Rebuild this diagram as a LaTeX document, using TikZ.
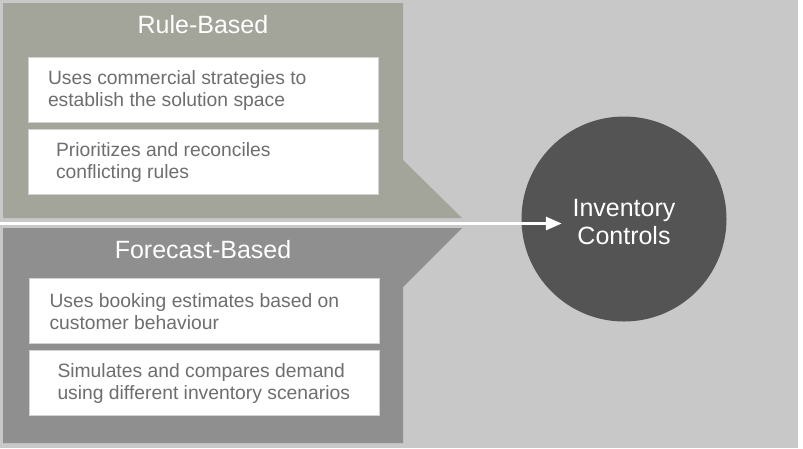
\documentclass[tikz,border=0pt]{standalone}
\usepackage{fontspec}
\setmainfont{Liberation Sans}
\usetikzlibrary{arrows.meta,positioning}
\definecolor{bggray}{HTML}{C8C8C8}
\definecolor{rulegray}{HTML}{A4A59A}
\definecolor{fcgray}{HTML}{8F8F8F}
\definecolor{ctrlgray}{HTML}{545454}
\definecolor{itemtext}{HTML}{6E6E6E}
\definecolor{itemline}{HTML}{D2D2D2}

\begin{document}
\begin{tikzpicture}[x=1pt,y=-1pt,
	itembox/.style={draw=itemline, fill=white, minimum width=350pt, minimum height=65pt},
	itemtext/.style={font=\fontsize{19.3}{22}\selectfont, text=itemtext, align=left, anchor=west, inner sep=0pt},
	paneltitle/.style={text=white, font=\fontsize{25}{28}\selectfont},
	ctrlcircle/.style={circle, fill=ctrlgray, minimum size=205pt, inner sep=0pt}]
					\useasboundingbox (0,0) rectangle (803,448);
					\fill[bggray] (0,0) rectangle (798,448);
					% panels
					\fill[rulegray] (3,3) -- (403,3) -- (403,160) -- (462,218) -- (3,218) -- cycle;
					\fill[fcgray] (3,228) -- (462,228) -- (403,287) -- (403,443) -- (3,443) -- cycle;
					\node[paneltitle] (ruletitle) at (203,25) {Rule-Based};
					\node[paneltitle] (fctitle) at (203,250) {Forecast-Based};
					% items
					\foreach \name/\x/\y/\ind/\txt in {
						usescomm/203/90/20/{Uses commercial strategies to\\establish the solution space},
						prioritizes/203/161.5/28/{Prioritizes and reconciles\\conflicting rules},
						usesbook/204.5/311/20/{Uses booking estimates based on\\customer behaviour},
						simulates/204.5/383/28/{Simulates and compares demand\\using different inventory scenarios}}{
						\node[itembox] (\name) at (\x,\y) {};
						\node[itemtext] (\name-txt) at ([xshift=\ind pt, yshift=-1pt]\name.west) {\txt};
					}
					% controls
					\node[ctrlcircle] (controls) at (624,219) {};
					\node[text=white, align=center, font=\fontsize{25}{28.5}\selectfont] (ctrltext) at (624,222) {Inventory\\Controls};
					\coordinate (arrowstart) at (0,223.5);
					\coordinate (arrowtip) at ([xshift=40.5pt]controls.west |- arrowstart);
					\draw[white, line width=3pt, -{Triangle[length=16pt,width=13pt]}] (arrowstart) -- (arrowtip);
				\end{tikzpicture}
\end{document}
